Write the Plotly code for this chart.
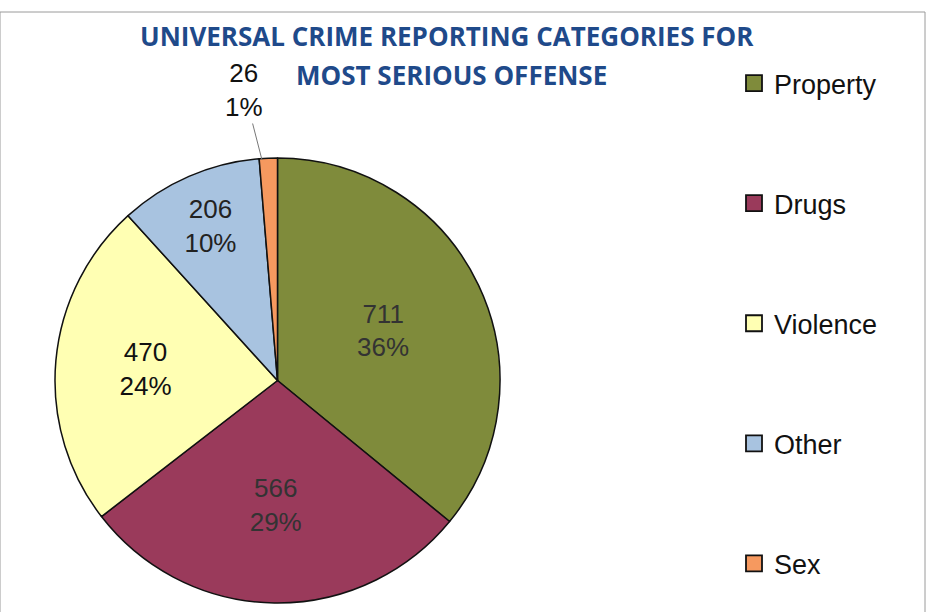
import plotly.graph_objects as go

categories = ["Property", "Drugs", "Violence", "Other", "Sex"]
values = [711, 566, 470, 206, 26]
colors = ["#7f8b3b", "#9a3a5b", "#ffffb3", "#a8c3e0", "#f6995f"]
text_colors = ["#333333", "#333333", "#111111", "#222222", "#111111"]
title_lines = ["UNIVERSAL CRIME REPORTING CATEGORIES FOR", "MOST SERIOUS OFFENSE"]

W, H = 937, 612
total = sum(values)

fig = go.Figure()
fig.add_trace(go.Pie(
    labels=categories,
    values=values,
    sort=False,
    direction="clockwise",
    rotation=0,
    marker=dict(colors=colors, line=dict(color="#111111", width=1.5)),
    texttemplate=["%{value}<br>%{percent:.0%}"] * 4 + [""],
    textposition="inside",
    insidetextorientation="horizontal",
    insidetextfont=dict(family="Liberation Sans, Arial", size=26, color=text_colors),
    showlegend=False,
    domain=dict(x=[55 / W, 500 / W], y=[1 - 603 / H, 1 - 158 / H]),
    hoverinfo="label+value+percent",
))

# legend entries via dummy traces so spacing can be matched
for cat, col in zip(categories, colors):
    fig.add_trace(go.Scatter(
        x=[None], y=[None], mode="markers", name=cat, legendgroup=cat,
        marker=dict(symbol="square", size=18, color=col, line=dict(color="#111111", width=1.8)),
    ))

# label for the small slice
sex_val = values[-1]
fig.add_annotation(
    x=262 / W, y=1 - 160 / H, xref="paper", yref="paper",
    text=f"{sex_val}<br>{round(100 * sex_val / total)}%",
    showarrow=True, arrowhead=0, arrowwidth=1, arrowcolor="#777777",
    ax=-18, ay=-70,
    font=dict(family="Liberation Sans, Arial", size=26, color="#111111"),
    align="center",
)

fig.add_annotation(
    x=447 / W, y=1 - 36 / H, xref="paper", yref="paper", yanchor="middle", xanchor="center",
    text=f"<b>{title_lines[0]}</b>", showarrow=False,
    font=dict(family="Open Sans, Lato", size=26, color="#1f4a8a"),
)
fig.add_annotation(
    x=451 / W, y=1 - 75 / H, xref="paper", yref="paper", yanchor="middle", xanchor="center",
    text=f"<b>{title_lines[1]}</b>", showarrow=False,
    font=dict(family="Open Sans, Lato", size=26, color="#1f4a8a"),
)

fig.add_shape(type="rect", xref="paper", yref="paper",
              x0=0, x1=925 / W, y0=-0.01, y1=1 - 12 / H,
              line=dict(color="#9a9a9a", width=1))

fig.update_layout(
    width=W, height=H,
    margin=dict(l=0, r=0, t=0, b=0, autoexpand=False),
    paper_bgcolor="white", plot_bgcolor="white",
    xaxis=dict(visible=False), yaxis=dict(visible=False),
    legend=dict(
        x=734 / W, y=1 - 59 / H, xanchor="left", yanchor="top",
        font=dict(family="Liberation Sans, Arial", size=27, color="#111111"),
        tracegroupgap=82, traceorder="grouped", itemwidth=30,
        bgcolor="rgba(0,0,0,0)",
    ),
)

fig.write_html("out.html",
               config={"displayModeBar": False},
               post_script="document.body.style.margin='0';document.body.style.overflow='hidden';")
